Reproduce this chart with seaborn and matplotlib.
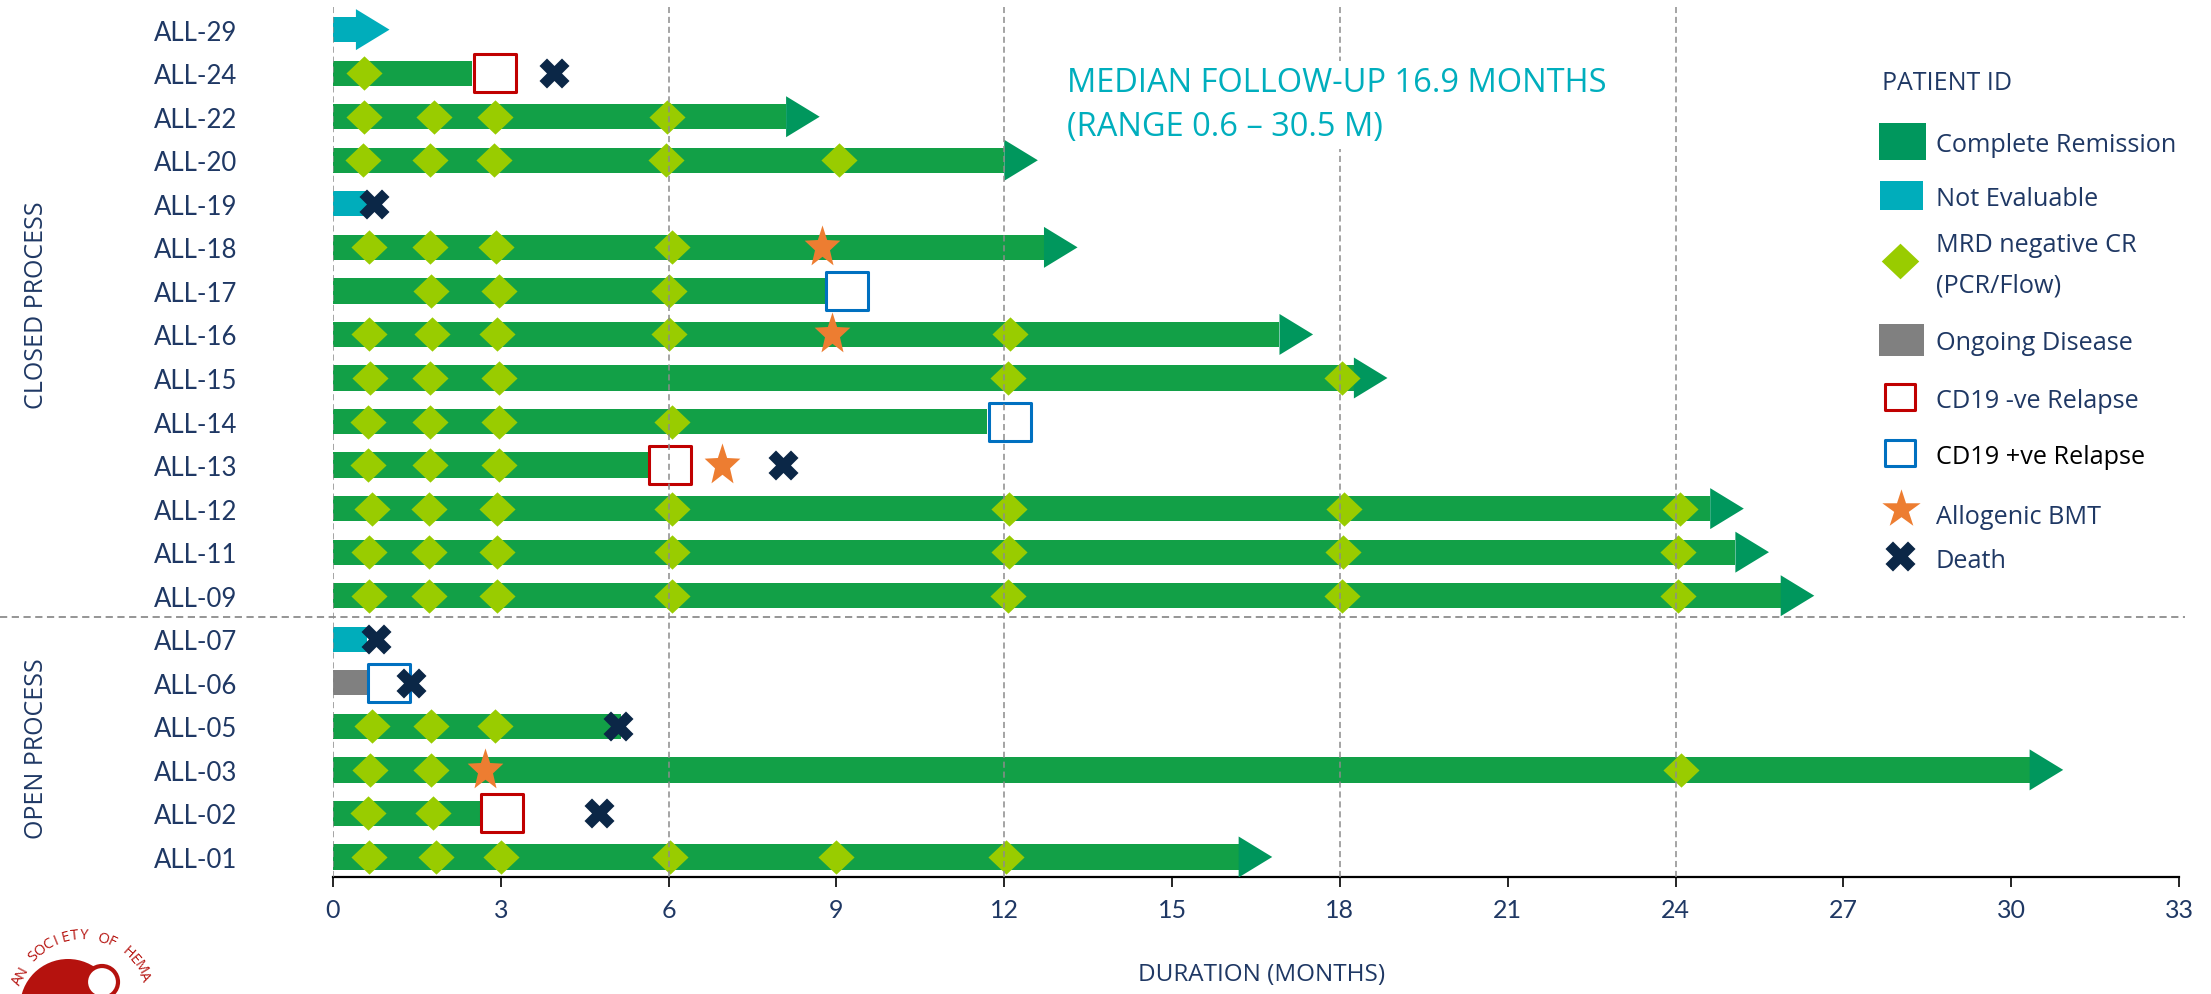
import numpy as np
import pandas as pd
import matplotlib.pyplot as plt
import seaborn as sns
from matplotlib.patches import Rectangle, Circle
from matplotlib.path import Path
from matplotlib.transforms import blended_transform_factory

# styl
sns.set_theme(style="white")
plt.rcParams["font.family"] = ["Open Sans", "DejaVu Sans"]

NAVY = "#1F3864"
CR_BAR = "#12A047"
CR_HEAD = "#00975D"
NE_TEAL = "#00ADBB"
OD_GRAY = "#808080"
MRD_GREEN = "#99CC00"
NEG_RED = "#C00000"
POS_BLUE = "#0070C0"
BMT_ORANGE = "#ED7D31"
DEATH_NAVY = "#0B2747"
GRID_GRAY = "#8C8C8C"
NOTE_TEAL = "#00AEBD"
LOGO_RED = "#B5120E"

# dane (miesiace od infuzji), wiersze od gory do dolu
patients = ["ALL-29", "ALL-24", "ALL-22", "ALL-20", "ALL-19", "ALL-18", "ALL-17",
            "ALL-16", "ALL-15", "ALL-14", "ALL-13", "ALL-12", "ALL-11", "ALL-09",
            "ALL-07", "ALL-06", "ALL-05", "ALL-03", "ALL-02", "ALL-01"]
status = ["NE", "CR", "CR", "CR", "NE", "CR", "CR", "CR", "CR", "CR", "CR", "CR",
          "CR", "CR", "NE", "OD", "CR", "CR", "CR", "CR"]
duration = [0.41, 2.49, 8.1, 12.0, 0.6, 12.71, 8.8, 16.92, 18.25, 11.7, 5.64, 24.62,
            25.07, 25.88, 0.6, 0.61, 5.15, 30.33, 2.62, 16.19]
ongoing = [True, False, True, True, False, True, False, True, True, False, False,
           True, True, True, False, False, False, True, False, True]
n_closed = 14  # ALL-29 ... ALL-09 = closed process

mrd_months = [
    [],
    [0.56],
    [0.56, 1.81, 2.89, 5.97],
    [0.53, 1.74, 2.88, 5.95, 9.05],
    [],
    [0.64, 1.74, 2.92, 6.06],
    [1.75, 2.96, 6.0],
    [0.65, 1.77, 2.93, 6.01, 12.1],
    [0.67, 1.74, 2.96, 12.07, 18.03],
    [0.63, 1.74, 2.97, 6.06],
    [0.63, 1.74, 2.96],
    [0.69, 1.72, 2.94, 6.06, 12.09, 18.07, 24.08],
    [0.64, 1.72, 2.94, 6.06, 12.09, 18.05, 24.05],
    [0.64, 1.72, 2.94, 6.06, 12.06, 18.04, 24.05],
    [],
    [],
    [0.69, 1.76, 2.9],
    [0.66, 1.76, 24.1],
    [0.63, 1.79],
    [0.65, 1.85, 3.0, 6.03, 9.0, 12.03],
]

neg_relapse_ids = ["ALL-24", "ALL-13", "ALL-02"]
neg_relapse_month = [2.89, 6.03, 3.02]
pos_relapse_ids = ["ALL-17", "ALL-14", "ALL-06"]
pos_relapse_month = [9.19, 12.1, 1.01]
bmt_ids = ["ALL-18", "ALL-16", "ALL-13", "ALL-03"]
bmt_month = [8.75, 8.92, 6.95, 2.71]
death_ids = ["ALL-24", "ALL-19", "ALL-13", "ALL-07", "ALL-06", "ALL-05", "ALL-02"]
death_month = [3.95, 0.73, 8.04, 0.76, 1.4, 5.1, 4.75]

x_ticks = list(range(0, 34, 3))
grid_months = [0, 6, 12, 18, 24]

bar_colors = {"CR": CR_BAR, "NE": NE_TEAL, "OD": OD_GRAY}
head_colors = {"CR": CR_HEAD, "NE": NE_TEAL}

# ksztalty markerow
HEAD_LEN = 0.6
HEAD = [(-0.82, -1), (0.82, 0), (-0.82, 1)]
DIAMOND = [(-1, 0), (0, 0.95), (1, 0), (0, -0.95)]
SQUARE = Path([(-1, -0.9), (1, -0.9), (1, 0.9), (-1, 0.9), (-1, -0.9)], closed=True)
_a = np.deg2rad(90 + 36 * np.arange(10))
_r = np.where(np.arange(10) % 2 == 0, 1.0, 0.42)
STAR = list(zip(0.85 * _r * np.cos(_a), _r * np.sin(_a)))

W, H = 2211, 995
fig = plt.figure(figsize=(W / 100, H / 100), dpi=100)
ax = fig.add_axes([333 / W, 1 - 878 / H, 1846 / W, 870 / H])

rows = np.arange(len(patients))
row_of = dict(zip(patients, rows))

df = pd.DataFrame({"row": rows, "months": duration, "status": status, "ongoing": ongoing})

# paski
sns.barplot(data=df, x="months", y="row", hue="status", palette=bar_colors,
            orient="h", native_scale=True, dodge=False, width=0.58, saturation=1,
            errorbar=None, linewidth=0, legend=False, ax=ax, zorder=3)

# groty strzalek dla trwajacej obserwacji
heads = df[df["ongoing"]].copy()
heads["mid"] = heads["months"] + HEAD_LEN / 2
sns.scatterplot(data=heads, x="mid", y="row", hue="status", palette=head_colors,
                marker=HEAD, s=29.5 ** 2, linewidth=0, legend=False, ax=ax, zorder=3)

# MRD negative CR
mrd_x = [m for ms in mrd_months for m in ms]
mrd_y = [r for r, ms in zip(rows, mrd_months) for _ in ms]
sns.scatterplot(x=mrd_x, y=mrd_y, color=MRD_GREEN, marker=DIAMOND, s=26 ** 2,
                linewidth=0, legend=False, ax=ax, zorder=4)

# nawroty
sns.scatterplot(x=neg_relapse_month, y=[row_of[p] for p in neg_relapse_ids],
                color="white", edgecolor=NEG_RED, marker=SQUARE, s=30.2 ** 2,
                linewidth=2.2, legend=False, ax=ax, zorder=5)
sns.scatterplot(x=pos_relapse_month, y=[row_of[p] for p in pos_relapse_ids],
                color="white", edgecolor=POS_BLUE, marker=SQUARE, s=30.2 ** 2,
                linewidth=2.2, legend=False, ax=ax, zorder=5)

# BMT i zgony
sns.scatterplot(x=bmt_month, y=[row_of[p] for p in bmt_ids], color=BMT_ORANGE,
                marker=STAR, s=31.8 ** 2, linewidth=0, legend=False, ax=ax, zorder=6)
sns.scatterplot(x=death_month, y=[row_of[p] for p in death_ids], color=DEATH_NAVY,
                marker="X", s=21.6 ** 2, linewidth=0, legend=False, ax=ax, zorder=7)

# siatka
for g in grid_months:
    ax.axvline(g, color=GRID_GRAY, lw=1.1, ls=(0, (4, 2.5)), zorder=8)
ax.axhline(n_closed - 0.5, xmin=-333 / 1846, xmax=1.003, color=GRID_GRAY, lw=1.3,
           ls=(0, (4, 2.5)), clip_on=False, zorder=8)

ax.set_xlim(0, 33)
ax.set_ylim(len(patients) - 0.54, -0.52)
ax.set_xticks(x_ticks)
ax.set_yticks(rows, patients)
ax.set_xlabel("")
ax.set_ylabel("")
for side in ["left", "right", "top"]:
    ax.spines[side].set_visible(False)
ax.spines["bottom"].set_color("black")
ax.spines["bottom"].set_linewidth(1.6)
ax.tick_params(axis="x", bottom=True, length=7, width=1.2, color="black", direction="out",
               pad=8, labelsize=18, labelcolor=NAVY, labelfontfamily="Lato")
ax.tick_params(axis="y", left=False, length=0, pad=69, labelsize=18.5, labelcolor=NAVY,
               labelfontfamily="Lato")

# napisy
ax.text(13.12, 1.125, "MEDIAN FOLLOW-UP 16.9 MONTHS", fontsize=23.5, color=NOTE_TEAL,
        ha="left", va="center_baseline", zorder=9,
        bbox=dict(facecolor="white", edgecolor="none", pad=4))
ax.text(13.12, 2.14, "(RANGE 0.6 \u2013 30.5 M)", fontsize=23.5, color=NOTE_TEAL,
        ha="left", va="center_baseline", zorder=9,
        bbox=dict(facecolor="white", edgecolor="none", pad=4))

blend = blended_transform_factory(fig.transFigure, ax.transData)
ax.text(37 / W, (n_closed - 1) / 2 - 0.2, "CLOSED PROCESS", transform=blend, rotation=90,
        fontsize=18, color=NAVY, ha="center", va="center")
ax.text(37 / W, (n_closed + len(patients) - 1) / 2, "OPEN PROCESS", transform=blend,
        rotation=90, fontsize=18, color=NAVY, ha="center", va="center")
fig.text(1262 / W, 1 - 975 / H, "DURATION (MONTHS)", fontsize=17.5, color=NAVY,
         ha="center", va="center")

# legenda w pikselach
ov = fig.add_axes([0, 0, 1, 1])
ov.set_xlim(0, W)
ov.set_ylim(H, 0)
ov.axis("off")
ov.patch.set_visible(False)

ov.text(1882, 80, "PATIENT ID", fontsize=18, color=NAVY, ha="left", va="center_baseline")
ov.add_patch(Rectangle((1879, 124), 47, 37, color=CR_HEAD, lw=0))
ov.add_patch(Rectangle((1880, 182), 43, 29, color=NE_TEAL, lw=0))
ov.scatter([1900], [262], marker=DIAMOND, s=27 ** 2, color=MRD_GREEN, lw=0)
ov.add_patch(Rectangle((1879, 325), 45, 32, color=OD_GRAY, lw=0))
ov.scatter([1900], [398], marker=SQUARE, s=21 ** 2, facecolor="white", edgecolor=NEG_RED, lw=2.2)
ov.scatter([1900], [454], marker=SQUARE, s=21 ** 2, facecolor="white", edgecolor=POS_BLUE, lw=2.2)
ov.scatter([1901], [510], marker="*", s=29 ** 2, color=BMT_ORANGE, lw=0)
ov.scatter([1900], [557], marker="X", s=21.6 ** 2, color=DEATH_NAVY, lw=0)

legend_text = [("Complete Remission", 142, NAVY), ("Not Evaluable", 197, NAVY),
               ("MRD negative CR", 243, NAVY), ("(PCR/Flow)", 283, NAVY),
               ("Ongoing Disease", 340, NAVY), ("CD19 -ve Relapse", 399, NAVY),
               ("CD19 +ve Relapse", 454, "black"), ("Allogenic BMT", 514, NAVY),
               ("Death", 558, NAVY)]
for txt, y, c in legend_text:
    ov.text(1936, y, txt, fontsize=18.2, color=c, ha="left", va="center_baseline")

# logo (fragment)
ov.add_patch(Circle((68, 1008), 48, color=LOGO_RED, lw=0))
ov.add_patch(Circle((102, 983), 16, facecolor="white", edgecolor=LOGO_RED, lw=3))
logo_text = "AMERICAN SOCIETY OF HEMATOLOGY"
for i, ch in enumerate(logo_text):
    if i < 6 or i > 23:
        continue  # poza kadrem
    th = np.deg2rad(-70 + (i - 6) * 8)
    ov.text(82 + 68 * np.sin(th), 1004 - 68 * np.cos(th), ch, rotation=-np.rad2deg(th),
            fontsize=10.5, color=LOGO_RED, ha="center", va="center", rotation_mode="anchor")

fig.savefig("out.png", dpi=100)
